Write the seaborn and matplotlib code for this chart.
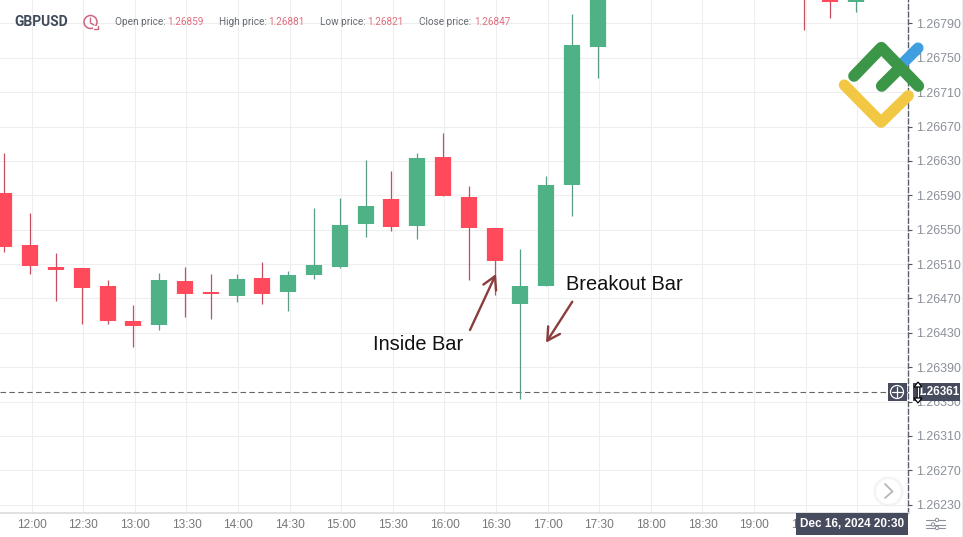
import numpy as np
import pandas as pd
import seaborn as sns
import matplotlib.pyplot as plt
from matplotlib.patches import Rectangle, Circle, Polygon

# candles (the ones above the top edge are left out)
times = ["11:45", "12:00", "12:15", "12:30", "12:45", "13:00", "13:15", "13:30", "13:45",
         "14:00", "14:15", "14:30", "14:45", "15:00", "15:15", "15:30", "15:45", "16:00",
         "16:15", "16:30", "16:45", "17:00", "17:15", "17:30", "19:30", "19:45", "20:00"]
opens = [1.26593, 1.26532, 1.26507, 1.26505, 1.26484, 1.26444, 1.26439, 1.26490, 1.26478,
         1.26473, 1.26494, 1.26477, 1.26497, 1.26507, 1.26557, 1.26586, 1.26554, 1.26635,
         1.26588, 1.26552, 1.26463, 1.26485, 1.26602, 1.26763, 1.26850, 1.26830, 1.26815]
highs = [1.26639, 1.26569, 1.26523, 1.26505, 1.26492, 1.26462, 1.26500, 1.26506, 1.26498,
         1.26499, 1.26512, 1.26502, 1.26575, 1.26587, 1.26631, 1.26618, 1.26639, 1.26662,
         1.26601, 1.26552, 1.26528, 1.26612, 1.26801, 1.26870, 1.26860, 1.26840, 1.26840]
lows = [1.26524, 1.26499, 1.26467, 1.26440, 1.26440, 1.26413, 1.26433, 1.26448, 1.26446,
        1.26466, 1.26464, 1.26455, 1.26493, 1.26505, 1.26542, 1.26549, 1.26539, 1.26589,
        1.26492, 1.26474, 1.26353, 1.26485, 1.26566, 1.26726, 1.26782, 1.26796, 1.26803]
closes = [1.26530, 1.26508, 1.26503, 1.26482, 1.26444, 1.26438, 1.26491, 1.26475, 1.26475,
          1.26493, 1.26475, 1.26497, 1.26509, 1.26556, 1.26577, 1.26553, 1.26634, 1.26589,
          1.26552, 1.26514, 1.26485, 1.26602, 1.26765, 1.26850, 1.26830, 1.26815, 1.26830]

price_ticks = [1.26790, 1.26750, 1.26710, 1.26670, 1.26630, 1.26590, 1.26550, 1.26510,
               1.26470, 1.26430, 1.26390, 1.26350, 1.26310, 1.26270, 1.26230]
time_ticks = ["12:00", "12:30", "13:00", "13:30", "14:00", "14:30", "15:00", "15:30",
              "16:00", "16:30", "17:00", "17:30", "18:00", "18:30", "19:00", "19:30", "20:00"]
hidden_labels = ["20:00"]
header = [("Open price:", "1.26859", 115, 167.5), ("High price:", "1.26881", 218.7, 268),
          ("Low price:", "1.26821", 320, 367.5), ("Close price:", "1.26847", 419.3, 474)]
cursor_price = 1.26361


def minutes(t):
    h, m = t.split(":")
    return int(h) * 60 + int(m)


GREEN = "#4fb286"
RED = "#ff4a5c"
GREEN_WICK = "#5a9c85"
RED_WICK = "#c4505f"
SANS = "Liberation Sans"

sns.set_theme(style="white", rc={"axes.edgecolor": "#dddddd", "grid.color": "#eeeeee"})
plt.rcParams["font.family"] = [SANS, "DejaVu Sans"]

fig = plt.figure(figsize=(9.63, 5.37), dpi=100)
W, H = 963, 537
ax = fig.add_axes([0, 1 - 513 / H, 908 / W, 513 / H])

rows = []
for t, o, h, l, c in zip(times, opens, highs, lows, closes):
    up = c >= o
    x = minutes(t) - 0.9
    rows.append({"candle": t, "x": x, "wick": l, "body": o, "wick_hi": h, "body_hi": c, "up": up})
df = pd.DataFrame(rows)
wicks = pd.melt(df, id_vars=["candle", "x", "up"], value_vars=["wick", "wick_hi"], value_name="price")
bodies = pd.melt(df, id_vars=["candle", "x", "up"], value_vars=["body", "body_hi"], value_name="price")

sns.lineplot(data=wicks, x="x", y="price", hue="up", units="candle", estimator=None, sort=False,
             palette={True: GREEN_WICK, False: RED_WICK}, linewidth=0.9, legend=False,
             solid_capstyle="butt", ax=ax, zorder=3)
sns.lineplot(data=bodies, x="x", y="price", hue="up", units="candle", estimator=None, sort=False,
             palette={True: GREEN, False: RED}, linewidth=11.7, legend=False,
             solid_capstyle="butt", ax=ax, zorder=4)

ax.set_xlim(701.57, 1229.5)
ax.set_ylim(1.262203, 1.268173)
ax.set_xlabel("")
ax.set_ylabel("")
ax.set_xticks([minutes(t) for t in time_ticks])
ax.set_xticklabels(["" if t in hidden_labels else t for t in time_ticks], fontsize=8.6, color="#777777")
ax.set_yticks(price_ticks)
ax.set_yticklabels([f"{p:.5f}" for p in price_ticks], fontsize=8.9, color="#8a8f99")
ax.yaxis.tick_right()
ax.tick_params(axis="y", length=3, width=0.8, color="#555555", pad=3)
ax.tick_params(axis="x", length=0, pad=4)
ax.grid(True, color="#eeeeee", linewidth=0.8)
ax.set_axisbelow(True)
for side in ["top", "left"]:
    ax.spines[side].set_visible(False)
ax.spines["bottom"].set_color("#dddddd")
ax.spines["right"].set_color("#5a5f6a")
ax.spines["right"].set_linestyle((0, (3.5, 2)))
ax.spines["right"].set_linewidth(1.0)
ax.axhline(cursor_price, color="#666666", linewidth=0.8, linestyle=(0, (5, 3)), zorder=2)

# overlay in picture pixels for logo, arrows, header and cursor boxes
top = fig.add_axes([0, 0, 1, 1], facecolor="none")
top.set_xlim(0, W)
top.set_ylim(H, 0)
top.axis("off")

# header
top.text(14, 22, "GBPUSD", fontsize=10, fontweight="bold", color="#3f4a5a", family="Roboto", va="center")
top.add_patch(Circle((90.5, 22), 6.5, fill=False, ec="#c9677f", lw=1.1))
top.plot([90.5, 90.5, 94], [18, 23, 25], color="#c9677f", lw=1.0)
top.add_patch(Rectangle((93, 26), 6, 4, fc="white", ec="none", zorder=1))
top.plot([94, 98, 98], [29, 29, 26], color="#c9677f", lw=1.0, zorder=2)
for label, value, lx, vx in header:
    top.text(lx, 22, label, fontsize=7.2, color="#666a72", family="Roboto", va="center")
    top.text(vx, 22, value, fontsize=7.2, color="#e0707f", family="Roboto", va="center")

# logo
top.plot([903, 918], [63, 48], color="#3f9fe0", lw=8, solid_capstyle="round")
top.plot([854, 881.3, 918.3], [76, 47.7, 86], color="#3b9647", lw=8.4,
         solid_capstyle="round", solid_joinstyle="round")
top.plot([881.7, 896.7], [86, 71], color="#3b9647", lw=8.4, solid_capstyle="round")
top.plot([844.3, 881, 908.3], [85, 122.3, 95.7], color="#f2c744", lw=8,
         solid_capstyle="round", solid_joinstyle="round")

# annotations
arrow = dict(arrowstyle="->,head_length=0.75,head_width=0.42", color="#8a3d3d", lw=1.7, shrinkA=0, shrinkB=0)
top.annotate("", xy=(496, 274), xytext=(470, 330), arrowprops=arrow)
top.annotate("", xy=(546, 342.7), xytext=(572.3, 301.7), arrowprops=arrow)
top.text(373, 344.5, "Inside Bar", fontsize=14.4, color="#111111", va="center")
top.text(566, 284.5, "Breakout Bar", fontsize=14.4, color="#111111", va="center")

# cursor label boxes
BOX = "#464c5e"
top.add_patch(Rectangle((888, 383), 19, 18, fc=BOX, ec="none"))
top.add_patch(Rectangle((913, 383), 47, 18, fc=BOX, ec="none"))
top.add_patch(Circle((897, 392), 6.5, fill=False, ec="white", lw=0.9))
top.plot([892, 902], [392, 392], color="white", lw=0.9)
top.plot([897, 897], [387, 397], color="white", lw=0.9)
top.text(959.5, 392, f"{cursor_price:.5f}", fontsize=8.4, fontweight="bold", color="white", ha="right", va="center")
top.plot([918, 918], [385, 400], color="black", lw=2.4, solid_capstyle="butt", zorder=5)
top.plot([918, 918], [385, 400], color="white", lw=1.0, solid_capstyle="butt", zorder=6)
top.add_patch(Polygon([(914, 387), (918, 382), (922, 387)], fc="white", ec="black", lw=0.9, zorder=6))
top.add_patch(Polygon([(914, 398), (918, 403), (922, 398)], fc="white", ec="black", lw=0.9, zorder=6))

top.add_patch(Rectangle((795.7, 513), 112.3, 22, fc=BOX, ec="none"))
top.text(852, 524, "Dec 16, 2024 20:30", fontsize=8.5, fontweight="bold", color="white", ha="center", va="center")

# chevron button and settings icon
top.add_patch(Circle((888.5, 491.5), 15, fc="#f0f0f0", ec="none", alpha=0.7))
top.add_patch(Circle((888.5, 491.5), 12.5, fc="white", ec="none"))
top.plot([885, 892.5, 885], [484, 491.5, 498], color="#b5b5b5", lw=1.3)
for y, cx in [(520, 937), (524.5, 933), (528, 937)]:
    top.plot([926, 945], [y, y], color="#8a8f99", lw=0.8)
    top.add_patch(Circle((cx, y), 1.7, fc="white", ec="#8a8f99", lw=0.7, zorder=3))
top.plot([962, 962], [0, 537], color="#e8e8e8", lw=0.8)

fig.savefig("out.png", dpi=100)
